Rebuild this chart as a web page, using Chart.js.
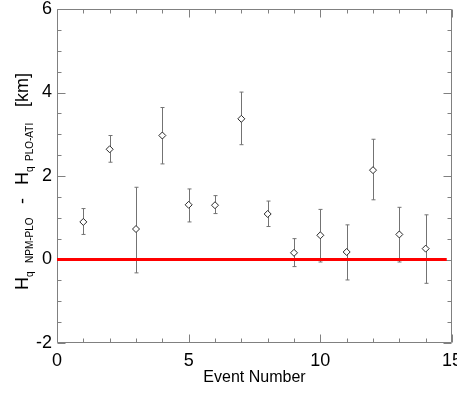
<!DOCTYPE html>
<html>
<head>
<meta charset="utf-8">
<script src="https://cdn.jsdelivr.net/npm/chart.js@4"></script>
<style>
  html, body { margin: 0; padding: 0; background: #fff; }
  #wrap { width: 457px; height: 394px; }
</style>
</head>
<body>
<div id="wrap"><canvas id="chart"></canvas></div>
<script>
// event numbers and height differences [km]
const events = [1, 2, 3, 4, 5, 6, 7, 8, 9, 10, 11, 12, 13, 14];
const values = [0.90, 2.64, 0.73, 2.97, 1.31, 1.30, 3.37, 1.09, 0.16, 0.58, 0.18, 2.14, 0.60, 0.26];
const errLow = [0.60, 2.33, -0.32, 2.29, 0.90, 1.10, 2.75, 0.79, -0.17, -0.06, -0.49, 1.43, -0.06, -0.57];
const errHigh = [1.22, 2.97, 1.73, 3.64, 1.69, 1.53, 4.01, 1.40, 0.50, 1.20, 0.83, 2.88, 1.25, 1.07];
const refX = [0, 14.8];
const refY = [0, 0];

const FONT = "'Liberation Sans', Arial, Helvetica, sans-serif";

const points = events.map((e, i) => ({ x: e, y: values[i] }));
const refLine = refX.map((x, i) => ({ x: x, y: refY[i] }));

// vertical error bars with small caps
const errorBars = {
  id: 'errorBars',
  beforeDatasetsDraw(chart) {
    const ctx = chart.ctx;
    const xs = chart.scales.x, ys = chart.scales.y;
    ctx.save();
    ctx.strokeStyle = 'rgb(115,115,115)';
    ctx.lineWidth = 1;
    events.forEach((e, i) => {
      const px = Math.round(xs.getPixelForValue(e)) + 0.5;
      const top = ys.getPixelForValue(errHigh[i]);
      const bot = ys.getPixelForValue(errLow[i]);
      ctx.beginPath();
      ctx.moveTo(px, top); ctx.lineTo(px, bot);
      ctx.moveTo(px - 2, top); ctx.lineTo(px + 2, top);
      ctx.moveTo(px - 2, bot); ctx.lineTo(px + 2, bot);
      ctx.stroke();
    });
    ctx.restore();
  }
};

// IDL-style box with inward ticks on all four sides
const boxTicks = {
  id: 'boxTicks',
  beforeDatasetsDraw(chart) {
    const ctx = chart.ctx;
    const a = chart.chartArea;
    const xs = chart.scales.x, ys = chart.scales.y;
    const L = Math.round(a.left) + 0.5, R = Math.round(a.right) - 0.5;
    const T = Math.round(a.top) + 0.5, B = Math.round(a.bottom) - 0.5;
    ctx.save();
    ctx.strokeStyle = 'rgb(128,128,128)';
    ctx.lineWidth = 1;
    ctx.beginPath();
    ctx.rect(L, T, R - L, B - T);
    for (let v = -2; v <= 6; v += 0.5) {
      const py = Math.round(ys.getPixelForValue(v)) + 0.5;
      const len = (v % 2 === 0) ? 8 : 4;
      ctx.moveTo(L, py); ctx.lineTo(L + len, py);
      ctx.moveTo(R, py); ctx.lineTo(R - len, py);
    }
    for (let v = 0; v <= 15; v += 1) {
      const px = Math.round(xs.getPixelForValue(v)) + 0.5;
      const len = (v % 5 === 0) ? 8 : 4;
      ctx.moveTo(px, B); ctx.lineTo(px, B - len);
      ctx.moveTo(px, T); ctx.lineTo(px, T + len);
    }
    ctx.stroke();
    ctx.restore();
  }
};

// rotated y title with subscripts (offsets along the text direction)
const yTitle = {
  id: 'yTitle',
  afterDraw(chart) {
    const ctx = chart.ctx;
    const big = '18px ' + FONT, small = '10px ' + FONT;
    const parts = [
      { t: 'H', f: big, dy: 0, at: 0 },
      { t: 'q', f: small, dy: 5, at: 13 },
      { t: 'NPM-PLO', f: small, dy: 5, at: 27 },
      { t: '-', f: big, dy: 0, at: 86 },
      { t: 'H', f: big, dy: 0, at: 105 },
      { t: 'q', f: small, dy: 5, at: 118 },
      { t: 'PLO-ATI', f: small, dy: 5, at: 129 },
      { t: '[km]', f: big, dy: 0, at: 183 }
    ];
    ctx.save();
    ctx.translate(28, 290);
    ctx.rotate(-Math.PI / 2);
    ctx.fillStyle = '#000';
    ctx.textBaseline = 'alphabetic';
    parts.forEach(p => {
      ctx.font = p.f;
      ctx.fillText(p.t, p.at, p.dy);
    });
    ctx.restore();
  }
};

new Chart(document.getElementById('chart'), {
  type: 'scatter',
  data: {
    datasets: [
      {
        data: refLine,
        showLine: true,
        borderColor: 'rgb(255,0,0)',
        borderWidth: 3,
        pointRadius: 0
      },
      {
        data: points,
        pointStyle: 'rectRot',
        pointRadius: 3.5,
        pointBackgroundColor: '#fff',
        pointBorderColor: 'rgb(40,40,40)',
        pointBorderWidth: 1
      }
    ]
  },
  options: {
    responsive: true,
    maintainAspectRatio: false,
    animation: false,
    layout: { padding: { top: 9, right: 5, left: 0, bottom: 0 } },
    plugins: { legend: { display: false }, tooltip: { enabled: false } },
    scales: {
      x: {
        type: 'linear',
        min: 0, max: 15,
        grid: { display: false, drawTicks: false },
        border: { display: false },
        ticks: { stepSize: 5, color: '#000', padding: 7, maxRotation: 0, font: { size: 18, family: FONT } },
        title: { display: true, text: 'Event Number', color: '#000', font: { size: 16, family: FONT }, padding: { top: 0, bottom: 7 } },
        afterFit(s) { s.height = 51; s.paddingLeft = 0; s.paddingRight = 0; }
      },
      y: {
        min: -2, max: 6,
        grid: { display: false, drawTicks: false },
        border: { display: false },
        ticks: { stepSize: 2, color: '#000', padding: 5, font: { size: 18, family: FONT } },
        afterFit(s) { s.width = 57; s.paddingTop = 0; s.paddingBottom = 0; }
      }
    }
  },
  plugins: [errorBars, boxTicks, yTitle]
});
</script>
</body>
</html>
